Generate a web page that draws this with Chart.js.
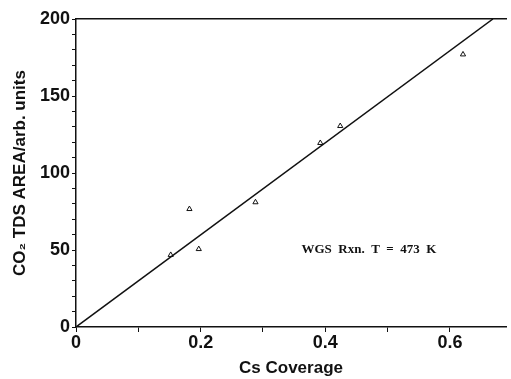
<!DOCTYPE html>
<html>
<head>
<meta charset="utf-8">
<script src="https://cdn.jsdelivr.net/npm/chart.js@4"></script>
<style>
  html, body { margin: 0; padding: 0; background: #fff; }
  #wrap { width: 511px; height: 379px; }
</style>
</head>
<body>
<div id="wrap"><canvas id="chart" width="511" height="379"></canvas></div>
<script>
// measured points (Cs coverage, CO2 TDS area)
const coverage = [0.152, 0.182, 0.197, 0.288, 0.392, 0.424, 0.621];
const tdsArea = [46.8, 76.6, 50.6, 81, 119.5, 130.5, 177];

// fitted line end points
const fitX = [0, 0.669];
const fitY = [0, 200];

const xTickValues = [0, 0.1, 0.2, 0.3, 0.4, 0.5, 0.6];
const xTickLabels = ['0', '', '0.2', '', '0.4', '', '0.6'];
const yTickLabels = ['0', '50', '100', '150', '200'];
const noteText = 'WGS  Rxn.  T  =  473  K';
const notePos = [0.47, 50.5];

const ctx = document.getElementById('chart');

const notePlugin = {
  id: 'note',
  afterDatasetsDraw: (chart) => {
    const c = chart.ctx;
    const x = chart.scales.x.getPixelForValue(notePos[0]);
    const y = chart.scales.y.getPixelForValue(notePos[1]);
    c.save();
    c.font = 'bold 13px "Liberation Serif", "DejaVu Serif", serif';
    c.fillStyle = '#111';
    c.textAlign = 'center';
    c.textBaseline = 'middle';
    c.fillText(noteText, x, y);
    c.restore();
  },
};

const tickFont = { family: '"Liberation Sans", Arial, sans-serif', size: 18, weight: 'bold' };
const titleFont = { family: '"Liberation Sans", Arial, sans-serif', size: 17, weight: 'bold' };

new Chart(ctx, {
  type: 'scatter',
  data: {
    datasets: [
      {
        label: 'data',
        data: coverage.map((v, i) => ({ x: v, y: tdsArea[i] })),
        pointStyle: 'triangle',
        pointRadius: 3,
        borderColor: '#111',
        backgroundColor: 'rgba(0,0,0,0)',
        borderWidth: 1,
      },
      {
        label: 'fit',
        type: 'line',
        data: fitX.map((v, i) => ({ x: v, y: fitY[i] })),
        borderColor: '#111',
        borderWidth: 1.5,
        pointRadius: 0,
        fill: false,
      },
    ],
  },
  plugins: [notePlugin],
  options: {
    responsive: false,
    animation: false,
    layout: { padding: { top: 19, right: 4, left: 10, bottom: 0 } },
    plugins: {
      legend: { display: false },
      tooltip: { enabled: false },
    },
    scales: {
      x: {
        type: 'linear',
        min: 0,
        max: 0.69,
        afterBuildTicks: (scale) => {
          scale.ticks = xTickValues.map((v) => ({ value: v }));
        },
        afterFit: (scale) => { scale.height = 52; },
        border: { display: true, color: '#111', width: 1.5 },
        grid: { drawOnChartArea: false, tickLength: 5, color: '#111' },
        ticks: {
          color: '#111',
          font: tickFont,
          padding: 0,
          maxRotation: 0,
          autoSkip: false,
          callback: (v, i) => xTickLabels[i],
        },
        title: {
          display: true,
          text: 'Cs Coverage',
          color: '#111',
          font: titleFont,
          padding: { top: 3, bottom: 0 },
        },
      },
      xTop: {
        type: 'linear',
        position: 'top',
        min: 0,
        max: 0.69,
        border: { display: true, color: '#111', width: 1.5 },
        grid: { display: false, drawTicks: false },
        ticks: { display: false },
        afterFit: (scale) => { scale.height = 0; },
      },
      y: {
        type: 'linear',
        min: 0,
        max: 200,
        afterFit: (scale) => { scale.width = 66; },
        border: { display: true, color: '#111', width: 1.5 },
        grid: { drawOnChartArea: false, tickLength: 4, color: '#111' },
        ticks: {
          stepSize: 10,
          color: '#111',
          font: tickFont,
          padding: 2,
          autoSkip: false,
          callback: (v) => (v % 50 === 0 ? yTickLabels[v / 50] : ''),
        },
        title: {
          display: true,
          text: 'CO₂ TDS AREA/arb. units',
          color: '#111',
          font: titleFont,
          padding: { top: 0, bottom: 4 },
        },
      },
    },
  },
});
</script>
</body>
</html>
